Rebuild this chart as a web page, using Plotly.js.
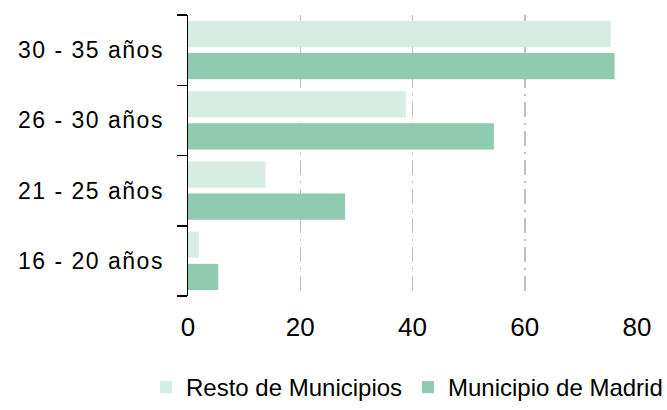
<!DOCTYPE html>
<html>
<head>
<meta charset="utf-8">
<script src="https://cdn.plot.ly/plotly-3.0.1.min.js"></script>
<style>
html,body{margin:0;padding:0;background:#fff;}
#chart{width:667px;height:410px;}
#chart .ytick text{letter-spacing:1.5px;}
</style>
</head>
<body>
<div id="chart"></div>
<script>
// Categories (bottom to top)
const categories = ["16 - 20 años", "21 - 25 años", "26 - 30 años", "30 - 35 años"];
// Series values
const restoMunicipios = [1.9, 13.8, 38.8, 75.3];
const municipioMadrid = [5.4, 28.0, 54.5, 76.0];
// Axis ticks
const xTickVals = [0, 20, 40, 60, 80];
const xTickText = ["0", "20", "40", "60", "80"];

const FONT = "Liberation Sans, Arial, Helvetica, sans-serif";

const traces = [
  {
    type: "bar", orientation: "h",
    name: "Municipio de Madrid",
    y: categories, x: municipioMadrid,
    marker: {color: "#90cab0"},
    legend: "legend2",
    hoverinfo: "x+name"
  },
  {
    type: "bar", orientation: "h",
    name: "Resto de Municipios",
    y: categories, x: restoMunicipios,
    marker: {color: "#d7ece2"},
    legend: "legend",
    hoverinfo: "x+name"
  }
];

const layout = {
  width: 667, height: 410,
  margin: {l: 188, r: 30, t: 15, b: 114},
  paper_bgcolor: "#ffffff", plot_bgcolor: "#ffffff",
  font: {family: FONT, color: "#000000"},
  barmode: "group",
  bargap: 0.084,
  bargroupgap: 0.186,
  xaxis: {
    range: [0, 80],
    tickvals: xTickVals, ticktext: xTickText,
    showgrid: true, gridcolor: "#c0c0c0", gridwidth: 1.5,
    griddash: "15px,6px,2px,6px",
    zeroline: false, showline: false, ticks: "",
    ticklabelstandoff: 13,
    tickfont: {size: 26, family: FONT, color: "#000"},
    fixedrange: true
  },
  yaxis: {
    type: "category",
    categoryorder: "array", categoryarray: categories,
    showgrid: false, zeroline: false,
    showline: true, linecolor: "#000000", linewidth: 1.5,
    ticks: "outside", ticklen: 10, tickwidth: 1.5, tickcolor: "#000000",
    tickson: "boundaries",
    ticklabelstandoff: 18,
    tickfont: {size: 23, family: FONT, color: "#000"},
    fixedrange: true
  },
  showlegend: true,
  legend: {
    orientation: "h",
    xref: "container", yref: "container",
    x: 146/667, y: -0.017, xanchor: "left", yanchor: "bottom",
    font: {size: 24, family: FONT, color: "#000"},
    bgcolor: "rgba(0,0,0,0)"
  },
  legend2: {
    orientation: "h",
    xref: "container", yref: "container",
    x: 408/667, y: -0.017, xanchor: "left", yanchor: "bottom",
    font: {size: 24, family: FONT, color: "#000"},
    bgcolor: "rgba(0,0,0,0)"
  }
};

Plotly.newPlot("chart", traces, layout, {displayModeBar: false, staticPlot: true});
</script>
</body>
</html>
